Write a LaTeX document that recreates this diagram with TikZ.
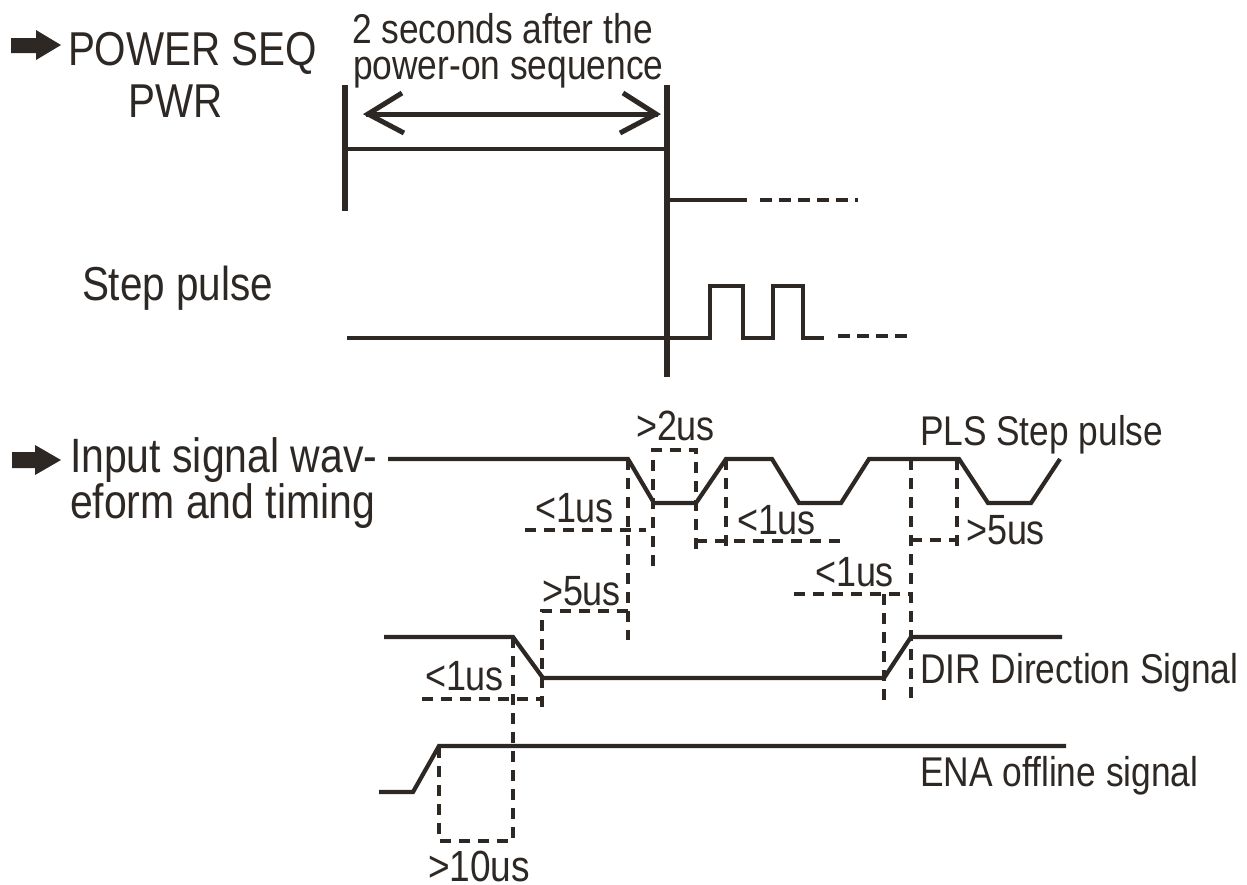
\documentclass[tikz,border=0pt]{standalone}
\usepackage{fontspec}
\setmainfont[FakeStretch=0.85]{Liberation Sans}
\definecolor{ink}{HTML}{2E2825}
\tikzset{
  lab/.style={anchor=base west,inner sep=0pt,outer sep=0pt,text=ink},
  wave/.style={draw=ink,line width=4.2pt,line join=miter},
  bar/.style={draw=ink,line width=5.8pt},
  dash line/.style={draw=ink,line width=3.4pt,dash pattern=on 11pt off 8pt},
  block/.style={fill=ink,draw=none}
}
\newcommand{\fs}[1]{\fontsize{#1}{#1}\selectfont}
\begin{document}
\begin{tikzpicture}[x=1pt,y=-1pt]
\useasboundingbox[fill=white] (0,0) rectangle (1247,884);
% block arrows
\path[block] (11,38)--(36,38)--(36,30)--(61,45)--(36,60)--(36,53)--(11,53)--cycle;
\path[block] (12,452)--(35,452)--(35,445)--(61,460)--(35,475)--(35,468)--(12,468)--cycle;
% top section
\draw[bar] (345,85)--(345,211);
\draw[bar] (667,85)--(667,377);
\draw[wave,line width=4.6pt] (345,149)--(667,149);
\draw[wave,line width=5pt] (366,114)--(658,114);
\draw[wave,line width=5pt] (402,93)--(368,114)--(404,133);
\draw[wave,line width=5pt] (623,93)--(656,114)--(620,133);
\draw[wave] (668,200)--(747,200);
\draw[dash line,dash pattern=on 12pt off 7pt] (760,200)--(858,200);
\draw[wave] (347,338)--(710,338)--(710,286)--(743,286)--(743,338)--(773,338)--(773,286)--(803,286)--(803,338)--(824,338);
\draw[dash line,dash pattern=on 12pt off 7pt] (838,336)--(913,336);
% PLS
\draw[wave] (388,459)--(628,459)--(654,503)--(696,503)--(726,459)--(772,459)--(799,503)--(841,503)--(869,459)--(959,459)--(988,503)--(1031,503)--(1060,459);
% DIR
\draw[wave] (384,637)--(513,637)--(543,678)--(884,678)--(911,637)--(1062,637);
% ENA
\draw[wave] (379,792)--(413,792)--(439,746)--(1066,746);
% dashed
\draw[dash line] (628,459)--(628,640);
\draw[dash line] (653,566)--(653,450)--(696,450)--(696,552);
\draw[dash line] (525,530)--(646,530);
\draw[dash line] (726,459)--(726,553);
\draw[dash line] (696,541)--(843,541);
\draw[dash line] (911,459)--(911,700);
\draw[dash line] (957,459)--(957,550);
\draw[dash line] (911,540)--(957,540);
\draw[dash line] (794,594)--(911,594);
\draw[dash line] (884,594)--(884,705);
\draw[dash line] (628,611)--(542,611)--(542,708);
\draw[dash line] (422,699)--(542,699);
\draw[dash line] (513,637)--(513,841)--(439,841)--(439,746);
% text
\node[lab,font=\fs{47.5}] (t1) at (68,65) {POWER SEQ};
\node[lab,font=\fs{47.5},anchor=base] (t2) at (176,117) {PWR};
\node[lab,font=\fs{41.6}] (t3) at (352,43) {2 seconds after the};
\node[lab,font=\fs{41.6}] (t4) at (353,79) {power-on sequence};
\node[lab,font=\fs{47.6}] (t5) at (82,300) {Step pulse};
\node[lab,font=\fs{48.2}] (t6) at (70,472) {Input signal wav-};
\node[lab,font=\fs{48.2}] (t7) at (70,518) {eform and timing};
\node[lab,font=\fs{42.3}] (t8) at (636,440) {>2us};
\node[lab,font=\fs{41.5}] (t9) at (920,445) {PLS Step pulse};
\node[lab,font=\fs{42.3}] (t10) at (535,522) {<1us};
\node[lab,font=\fs{42.3}] (t11) at (737,534) {<1us};
\node[lab,font=\fs{42.3}] (t12) at (966,544) {>5us};
\node[lab,font=\fs{42.3}] (t13) at (815,586) {<1us};
\node[lab,font=\fs{42.3}] (t14) at (542,605) {>5us};
\node[lab,font=\fs{41.6}] (t15) at (920,683) {DIR Direction Signal};
\node[lab,font=\fs{42.3}] (t16) at (425,690) {<1us};
\node[lab,font=\fs{41.6}] (t17) at (920,786) {ENA offline signal};
\node[lab,font=\fs{43.6}] (t18) at (428,881) {>10us};
\end{tikzpicture}
\end{document}
